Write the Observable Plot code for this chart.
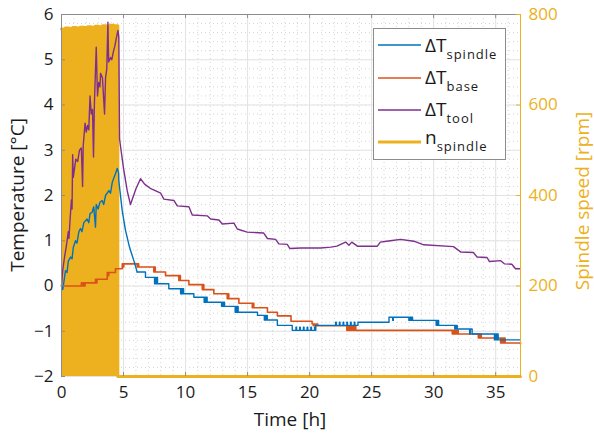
<!DOCTYPE html>
<html><head><meta charset="utf-8">
<script src="https://cdn.jsdelivr.net/npm/d3@7"></script>
<script src="https://cdn.jsdelivr.net/npm/@observablehq/plot@0.6"></script>
<style>
html,body{margin:0;padding:0;background:#fff;}
#chart{width:594px;height:441px;}
</style></head><body><div id="chart"></div>
<script>
// ---- data ----
const xTicks = [0, 5, 10, 15, 20, 25, 30, 35];
const yTicks = [-2, -1, 0, 1, 2, 3, 4, 5, 6];
const rpmTicks = [0, 200, 400, 600, 800];

// spindle speed [h, rpm]
const speed = [[0,768],[0.3,770],[0.6,769],[0.9,771],[1.2,770],[1.5,772],[1.8,771],[2.1,773],[2.4,772],[2.7,774],[3.0,773],[3.3,775],[3.6,774],[3.9,776],[4.2,775],[4.54,0],[37,0]];

// ΔT tool [h, °C]
const tool = [[0,0],[0.1,0.35],[0.25,0.65],[0.4,0.9],[0.55,1.2],[0.6,1.05],[0.7,1.5],[0.8,1.9],[0.85,1.7],[0.9,2.9],[0.95,2.4],[1.05,2.6],[1.15,2.8],[1.3,2.75],[1.45,3.0],[1.6,3.05],[1.7,2.2],[1.75,3.1],[1.9,3.6],[2.0,3.4],[2.1,3.55],[2.2,3.45],[2.3,4.2],[2.4,3.8],[2.5,3.9],[2.58,2.85],[2.65,4.0],[2.8,5.28],[2.9,4.2],[3.0,4.5],[3.1,4.4],[3.15,4.7],[3.3,4.6],[3.47,3.8],[3.55,4.6],[3.65,4.8],[3.74,5.83],[3.8,4.95],[3.95,5.05],[4.05,5.0],[4.2,5.2],[4.3,5.3],[4.4,5.45],[4.55,5.65],[4.62,5.5],[4.68,3.25],[4.8,3.0],[5.0,2.6],[5.3,2.1],[5.56,1.8],[5.75,1.95],[6.0,2.15],[6.37,2.37],[6.7,2.25],[7.2,2.15],[8.0,2.05],[8.25,1.92],[9.06,1.89],[9.33,1.77],[10.27,1.75],[10.54,1.57],[11.75,1.55],[12.02,1.48],[12.69,1.46],[12.96,1.37],[13.9,1.39],[14.17,1.26],[14.97,1.19],[16.3,1.17],[16.6,1.05],[17.26,1.03],[17.52,0.93],[18.2,0.92],[18.4,0.83],[19.3,0.84],[20.9,0.84],[21.7,0.86],[22.2,0.88],[22.9,0.97],[23.17,0.90],[23.4,0.97],[23.85,0.88],[25.46,0.88],[25.7,0.97],[26.5,1.0],[27.34,1.03],[28.4,0.99],[29.2,0.91],[31.6,0.87],[32.2,0.75],[33.2,0.74],[33.5,0.64],[34.3,0.63],[34.5,0.54],[35.4,0.56],[35.7,0.49],[36.3,0.48],[36.6,0.38],[37,0.38]];

// ΔT spindle, heating + cooling part [h, °C]
const spindleRise = [[0,0],[0.1,-0.08],[0.2,0.1],[0.32,0.34],[0.45,0.3],[0.55,0.55],[0.73,0.64],[0.85,0.6],[0.95,0.85],[1.13,1.0],[1.25,0.95],[1.4,1.2],[1.53,1.27],[1.65,1.2],[1.8,1.4],[2.06,1.48],[2.2,1.4],[2.3,1.6],[2.47,1.63],[2.6,1.75],[2.74,1.3],[2.8,1.8],[2.95,1.7],[3.1,1.85],[3.28,1.89],[3.4,1.8],[3.55,2.0],[3.82,2.11],[3.95,2.05],[4.1,2.3],[4.35,2.48],[4.5,2.6],[4.6,2.5],[4.62,2.33],[4.89,1.67],[5.16,1.23],[5.48,0.86],[5.83,0.56],[6.1,0.31]];
// ΔT spindle, stepped part [h, °C]
const spindleSteps = [[6.1,0.31],[6.77,0.19],[7.5,0.05],[7.56,0.19],[7.62,0.05],[7.68,0.19],[7.74,0.05],[8.65,-0.06],[9.6,-0.17],[9.66,-0.06],[9.72,-0.17],[9.78,-0.06],[9.84,-0.17],[10.67,-0.25],[11.5,-0.36],[11.56,-0.25],[11.62,-0.36],[11.68,-0.25],[11.74,-0.36],[12.9,-0.45],[12.96,-0.36],[13.02,-0.45],[13.08,-0.36],[13.14,-0.45],[14.0,-0.58],[14.06,-0.45],[14.12,-0.58],[14.18,-0.45],[14.24,-0.58],[15.8,-0.65],[16.35,-0.75],[16.41,-0.65],[16.47,-0.75],[16.53,-0.65],[16.59,-0.75],[17.4,-0.87],[18.6,-0.98],[18.9,-0.91],[18.95,-0.98],[19.2,-0.91],[19.25,-0.98],[19.5,-0.91],[19.55,-0.98],[19.8,-0.91],[19.85,-0.98],[20.1,-0.91],[20.15,-0.98],[20.4,-0.91],[20.45,-0.98],[20.5,-0.87],[22.1,-0.8],[22.15,-0.87],[22.4,-0.8],[22.45,-0.87],[22.7,-0.8],[22.75,-0.87],[23.0,-0.8],[23.05,-0.87],[23.3,-0.8],[23.35,-0.87],[23.6,-0.8],[23.65,-0.87],[23.9,-0.8],[26.4,-0.69],[26.7,-0.76],[26.75,-0.69],[28.0,-0.76],[28.05,-0.69],[28.15,-0.76],[28.2,-0.69],[28.3,-0.76],[30.2,-0.87],[30.25,-0.76],[30.3,-0.87],[30.35,-0.76],[30.4,-0.87],[31.7,-0.95],[31.75,-0.87],[31.8,-0.95],[31.85,-0.87],[31.9,-0.95],[32.9,-1.06],[32.95,-0.95],[33.1,-1.06],[34.9,-1.19],[34.95,-1.06],[35.0,-1.19],[35.05,-1.06],[35.1,-1.19],[35.15,-1.06],[35.2,-1.19],[37,-1.19]];

// ΔT base [h, °C]
const base = [[0,0],[1.6,0.07],[1.68,0],[1.76,0.07],[1.84,0],[1.9,0.07],[2.74,0.15],[2.8,0.07],[2.86,0.15],[3.69,0.3],[3.75,0.23],[3.81,0.3],[4.35,0.38],[4.9,0.49],[4.96,0.42],[5.02,0.49],[6.1,0.42],[6.16,0.49],[6.22,0.42],[7.44,0.31],[7.5,0.42],[7.56,0.31],[8.39,0.23],[9.46,0.12],[9.52,0.23],[9.58,0.12],[10.27,0.03],[11.35,-0.08],[11.41,0.03],[11.47,-0.08],[12.28,-0.17],[13.36,-0.28],[13.42,-0.17],[13.48,-0.28],[14.3,-0.38],[15.38,-0.48],[15.44,-0.38],[15.5,-0.48],[16.6,-0.58],[17.4,-0.66],[18.5,-0.78],[20.2,-0.84],[20.3,-0.88],[20.36,-0.84],[20.42,-0.88],[20.48,-0.84],[20.54,-0.88],[20.6,-0.84],[20.66,-0.88],[23.0,-0.98],[23.06,-0.88],[23.12,-0.98],[23.18,-0.88],[23.24,-0.98],[23.3,-0.88],[23.36,-0.98],[23.42,-0.88],[23.48,-0.98],[23.54,-0.88],[23.6,-0.98],[23.66,-0.88],[23.72,-0.98],[31.5,-1.06],[31.56,-0.98],[31.62,-1.06],[31.68,-0.98],[31.74,-1.06],[31.8,-0.98],[31.86,-1.06],[31.92,-0.98],[31.98,-1.06],[33.6,-1.15],[33.66,-1.06],[33.72,-1.15],[33.78,-1.06],[33.84,-1.15],[35.4,-1.26],[35.46,-1.15],[35.52,-1.26],[35.58,-1.15],[35.64,-1.26],[35.7,-1.15],[35.76,-1.26],[37,-1.28]];

// ---- styles ----
const BLUE = "#0072BD", RED = "#D95319", PURPLE = "#7E2F8E", YEL = "#EDB120";
const AX = "#8c8c8c";
const FONT = "'Open Sans', sans-serif";
const rpmToY = r => -2 + r / 100;
const minorX = d3.range(0, 38, 1);
const minorY = d3.range(-2, 6.001, 0.2);

const chart = Plot.plot({
  width: 594, height: 441,
  marginLeft: 61, marginRight: 74, marginTop: 14, marginBottom: 65,
  x: {domain: [0, 37]},
  y: {domain: [-2, 6]},
  style: {fontFamily: FONT, fontSize: "17px", color: "#262626", background: "#fff"},
  marks: [
    Plot.ruleX(minorX, {stroke: "#d6d6d6", strokeDasharray: "1,3"}),
    Plot.ruleY(minorY, {stroke: "#d6d6d6", strokeDasharray: "1,3"}),
    Plot.ruleX(xTicks, {stroke: "#e3e3e3"}),
    Plot.ruleY(yTicks, {stroke: "#e3e3e3"}),
    Plot.areaY(speed, {x: d => d[0], y1: () => -2, y2: d => rpmToY(d[1]), curve: "step-after", fill: YEL}),
    Plot.line(speed, {x: d => d[0], y: d => rpmToY(d[1]), curve: "step-after", stroke: YEL, strokeWidth: 3}),
    Plot.line(base, {x: d => d[0], y: d => d[1], curve: "step-after", stroke: RED, strokeWidth: 1.6}),
    Plot.line(spindleRise, {x: d => d[0], y: d => d[1], stroke: BLUE, strokeWidth: 1.4}),
    Plot.line(spindleSteps, {x: d => d[0], y: d => d[1], curve: "step-after", stroke: BLUE, strokeWidth: 1.4}),
    Plot.line(tool, {x: d => d[0], y: d => d[1], stroke: PURPLE, strokeWidth: 1.4}),
    // spines
    Plot.ruleX([0], {stroke: AX}),
    Plot.ruleY([6], {stroke: AX}),
    Plot.ruleX([37], {stroke: YEL}),
    // inward ticks
    Plot.tickX(xTicks, {x: d => d, stroke: AX, insetTop: 358}),
    Plot.tickX(xTicks, {x: d => d, stroke: AX, insetBottom: 358}),
    Plot.tickY(yTicks, {y: d => d, stroke: AX, insetRight: 455}),
    Plot.tickY(rpmTicks, {y: d => rpmToY(d), stroke: YEL, insetLeft: 455}),
    // axes
    Plot.axisX(xTicks, {tickSize: 0, tickPadding: 9, label: null, fill: "#1a1a1a"}),
    Plot.axisY(yTicks, {anchor: "left", tickSize: 0, tickPadding: 8, label: null, fill: "#1a1a1a"}),
    Plot.axisY(rpmTicks.map(rpmToY), {anchor: "right", tickSize: 0, tickPadding: 8, label: null, fill: YEL, tickFormat: d => String(Math.round((d + 2) * 100))})
  ]
});
document.getElementById("chart").appendChild(chart);

// axis titles & legend
const svg = d3.select(chart);
svg.append("text").attr("x", 290).attr("y", 426).attr("text-anchor", "middle")
  .attr("font-family", FONT).attr("font-size", 19).attr("fill", "#1a1a1a").text("Time [h]");
svg.append("text").attr("transform", "translate(24,195) rotate(-90)").attr("text-anchor", "middle")
  .attr("font-family", FONT).attr("font-size", 19).attr("fill", "#1a1a1a").text("Temperature [°C]");
svg.append("text").attr("transform", "translate(589,201) rotate(-90)").attr("text-anchor", "middle")
  .attr("font-family", FONT).attr("font-size", 19).attr("fill", YEL).text("Spindle speed [rpm]");

const lg = svg.append("g");
lg.append("rect").attr("x", 373.5).attr("y", 28.5).attr("width", 132).attr("height", 131)
  .attr("fill", "#fff").attr("stroke", AX);
const entries = [
  {main: "ΔT", sub: "spindle", color: BLUE, w: 1.4, ly: 45, ty: 52},
  {main: "ΔT", sub: "base", color: RED, w: 1.4, ly: 78, ty: 84},
  {main: "ΔT", sub: "tool", color: PURPLE, w: 1.4, ly: 110, ty: 116},
  {main: "n", sub: "spindle", color: YEL, w: 3, ly: 142, ty: 144}
];
entries.forEach(e => {
  lg.append("line").attr("x1", 378).attr("x2", 421).attr("y1", e.ly).attr("y2", e.ly)
    .attr("stroke", e.color).attr("stroke-width", e.w);
  const t = lg.append("text").attr("x", 425).attr("y", e.ty).attr("text-anchor", "start")
    .attr("font-family", FONT).attr("font-size", 19).attr("fill", "#1a1a1a");
  t.append("tspan").text(e.main);
  t.append("tspan").attr("dy", 7).attr("font-size", 13).attr("letter-spacing", 1).text(e.sub);
});
</script>
</body></html>
